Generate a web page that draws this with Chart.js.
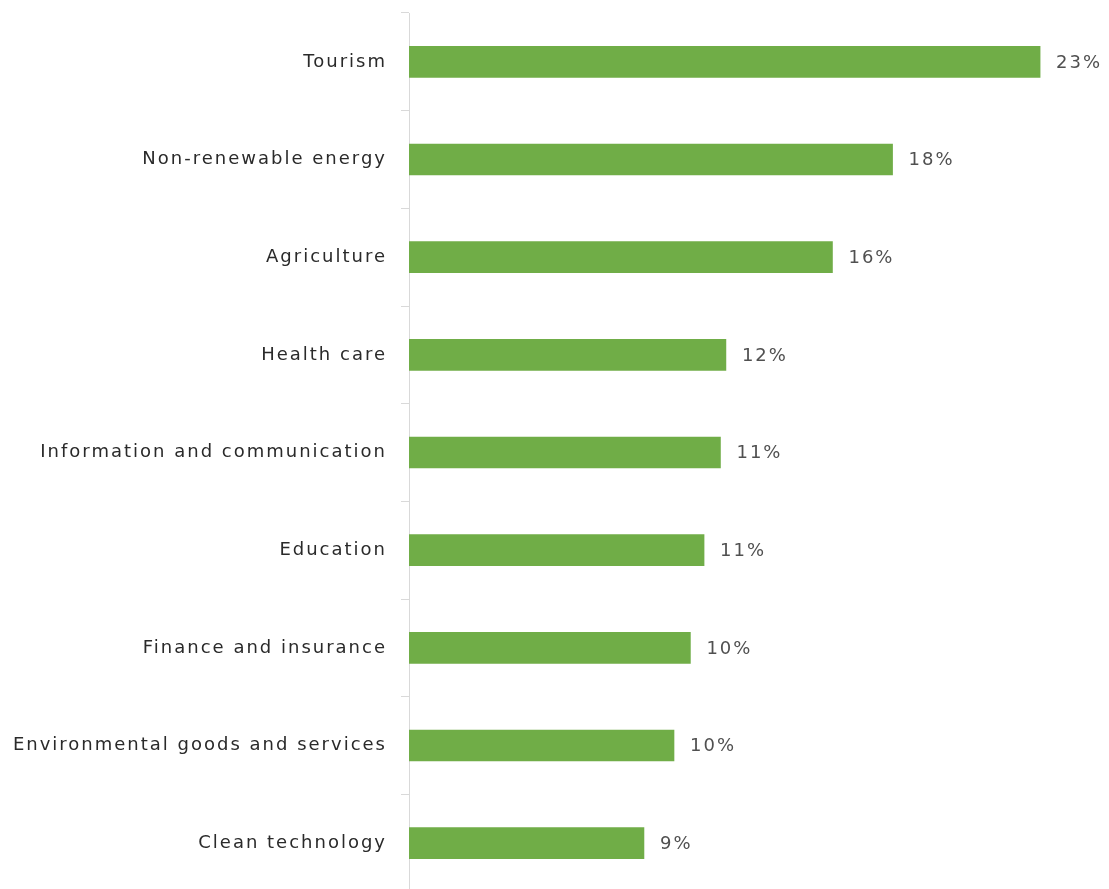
<!DOCTYPE html>
<html>
<head>
<meta charset="utf-8">
<style>
  html, body { margin: 0; padding: 0; background: #ffffff; overflow: hidden; }
  canvas { display: block; }
</style>
<script src="https://cdn.jsdelivr.net/npm/chart.js@4/dist/chart.umd.min.js"></script>
</head>
<body>
<canvas id="chart" width="1109" height="892"></canvas>
<script>
// Sectors and their shares (percent)
const categories = [
  'Tourism',
  'Non-renewable energy',
  'Agriculture',
  'Health care',
  'Information and communication',
  'Education',
  'Finance and insurance',
  'Environmental goods and services',
  'Clean technology'
];
const shares = [23.1, 17.7, 15.5, 11.6, 11.4, 10.8, 10.3, 9.7, 8.6];

const FONT = 'DejaVu Sans';
const SPACING = '2px';

// Widen letter spacing for every text drawn on the canvas
const spacingPlugin = {
  id: 'spacing',
  beforeDraw(chart) { chart.ctx.letterSpacing = SPACING; }
};

// Percent value written just past the end of each bar
const valueLabels = {
  id: 'valueLabels',
  afterDatasetsDraw(chart) {
    const ctx = chart.ctx;
    const meta = chart.getDatasetMeta(0);
    ctx.save();
    ctx.letterSpacing = SPACING;
    ctx.font = '18px "' + FONT + '"';
    ctx.fillStyle = '#505050';
    ctx.textAlign = 'left';
    ctx.textBaseline = 'middle';
    meta.data.forEach((bar, i) => {
      ctx.fillText(Math.round(shares[i]) + '%', bar.x + 16, bar.y + 1);
    });
    ctx.restore();
  }
};

new Chart(document.getElementById('chart'), {
  type: 'bar',
  data: {
    labels: categories,
    datasets: [{
      data: shares,
      backgroundColor: '#70ad47',
      borderWidth: 0,
      barThickness: 31
    }]
  },
  options: {
    indexAxis: 'y',
    responsive: false,
    animation: false,
    layout: { padding: { top: 13, right: 17, bottom: 0, left: 0 } },
    plugins: {
      legend: { display: false },
      tooltip: { enabled: false }
    },
    scales: {
      x: {
        display: false,
        min: 0,
        max: 25
      },
      y: {
        afterFit(scale) {
          scale.width = 409;
          scale.paddingTop = 0;
          scale.paddingBottom = 0;
        },
        border: { display: true, color: '#d9d9d9', width: 1 },
        grid: {
          display: true,
          offset: true,
          drawOnChartArea: false,
          drawTicks: true,
          tickLength: 8,
          color: '#d9d9d9'
        },
        ticks: {
          padding: 14,
          color: '#2a2a2a',
          font: { family: FONT, size: 18 }
        }
      }
    }
  },
  plugins: [spacingPlugin, valueLabels]
});
</script>
</body>
</html>
